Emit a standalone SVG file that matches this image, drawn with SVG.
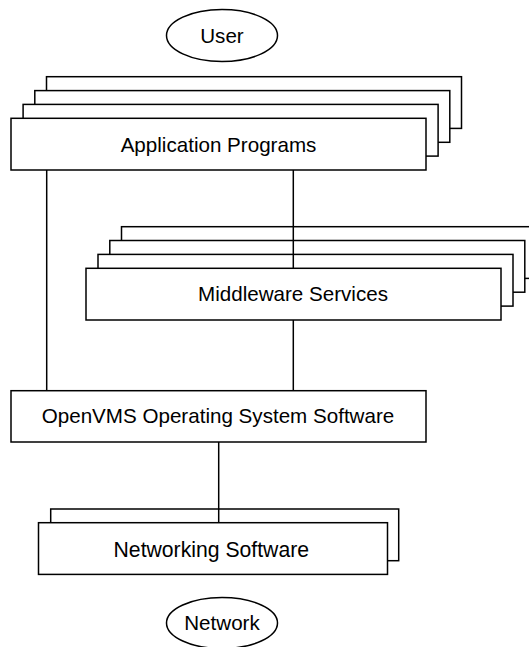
<svg xmlns="http://www.w3.org/2000/svg" width="529" height="647" viewBox="0 0 529 647">
  <style>
    .box { fill: #ffffff; stroke: #000000; stroke-width: 1.5; }
    .conn { stroke: #000000; stroke-width: 1.5; fill: none; }
    .lbl { font-family: "Liberation Sans", Arial, Helvetica, sans-serif; font-size: 20.6px; fill: #000000; text-anchor: middle; }
  </style>
  <rect x="0" y="0" width="529" height="647" fill="#ffffff"/>
  <g id="user">
    <ellipse class="box" cx="222" cy="35.5" rx="55.5" ry="26"/>
    <text class="lbl" x="222" y="43">User</text>
  </g>
  <g id="application-programs">
    <rect class="box" x="46.5" y="76.7" width="415" height="51.7"/>
    <rect class="box" x="34.8" y="90.6" width="415" height="51.7"/>
    <rect class="box" x="23.1" y="104.4" width="415" height="51.7"/>
    <rect class="box" x="11" y="118.3" width="415" height="51.7"/>
    <text class="lbl" x="218.5" y="151.5">Application Programs</text>
  </g>
  <g id="middleware-services">
    <rect class="box" x="121.5" y="226.7" width="415" height="51.7"/>
    <rect class="box" x="109.8" y="240.5" width="415" height="51.7"/>
    <rect class="box" x="98" y="254.4" width="415" height="51.7"/>
    <rect class="box" x="86" y="268.3" width="415" height="51.7"/>
    <text class="lbl" x="293" y="301">Middleware Services</text>
  </g>
  <g id="openvms">
    <rect class="box" x="11" y="390.7" width="415" height="51.3"/>
    <text class="lbl" x="218" y="423.3">OpenVMS Operating System Software</text>
  </g>
  <g id="networking-software">
    <rect class="box" x="50.7" y="509" width="348" height="51.7"/>
    <rect class="box" x="38.5" y="522.7" width="349" height="51.7"/>
    <text class="lbl" x="211.3" y="556.5" style="font-size:21.2px">Networking Software</text>
  </g>
  <g id="network">
    <ellipse class="box" cx="222" cy="623" rx="55.5" ry="25.5"/>
    <text class="lbl" x="222" y="629.5">Network</text>
  </g>
  <g id="connectors">
    <line class="conn" x1="46.7" y1="170" x2="46.7" y2="390.7"/>
    <line class="conn" x1="293.3" y1="170" x2="293.3" y2="268.3"/>
    <line class="conn" x1="293.3" y1="320" x2="293.3" y2="390.7"/>
    <line class="conn" x1="218.7" y1="442" x2="218.7" y2="522.7"/>
  </g>
</svg>
